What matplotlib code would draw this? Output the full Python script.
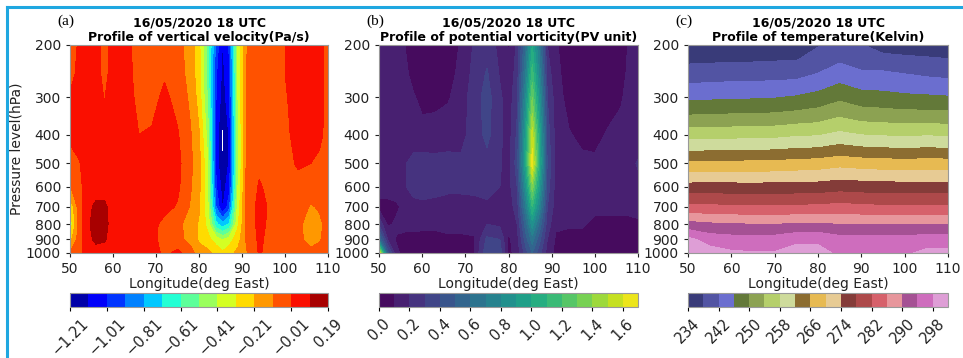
import numpy as np
import matplotlib
matplotlib.use('Agg')
import matplotlib.pyplot as plt
from matplotlib.lines import Line2D

#%% DATA ######################################################################

# pressure levels (hPa) and longitudes (deg East) of the gridded fields
plev = [200, 250, 300, 400, 500, 600, 700, 800, 900, 1000]
lon = [50, 52, 54, 56, 58, 60, 63, 66, 69, 72, 75, 78, 80, 82, 84, 85.5, 87,
       89, 91, 94, 97, 100, 103, 106, 108, 110]
lon_t = [50, 55, 60, 65, 70, 75, 80, 85, 90, 95, 100, 105, 110]

# vertical velocity (Pa/s), one column per longitude, 200 -> 1000 hPa
omega = [
    [-0.06, -0.04, 0.00, 0.01, -0.05, -0.12, -0.30, -0.40, -0.25, -0.10],
    [0.00, 0.01, 0.03, 0.03, -0.02, -0.04, -0.07, -0.08, -0.07, -0.04],
    [0.04, 0.04, 0.04, 0.04, 0.03, 0.03, 0.06, 0.07, 0.06, 0.03],
    [0.03, 0.03, 0.04, 0.04, 0.04, 0.05, 0.11, 0.13, 0.11, 0.05],
    [-0.05, -0.04, -0.015, 0.03, 0.04, 0.05, 0.11, 0.12, 0.10, 0.05],
    [0.03, 0.03, 0.04, 0.04, 0.04, 0.04, 0.05, 0.05, 0.05, 0.04],
    [0.02, 0.03, 0.04, 0.04, 0.04, 0.04, 0.04, 0.04, 0.04, 0.04],
    [-0.05, -0.05, -0.04, -0.01, 0.03, 0.04, 0.04, 0.04, 0.04, 0.04],
    [-0.06, -0.06, -0.04, 0.00, 0.03, 0.04, 0.04, 0.02, 0.02, 0.03],
    [-0.05, -0.02, 0.01, 0.03, 0.03, 0.03, 0.02, -0.04, -0.05, -0.03],
    [-0.07, -0.06, -0.04, 0.00, 0.02, 0.01, -0.02, -0.08, -0.06, 0.01],
    [-0.16, -0.15, -0.13, -0.10, -0.09, -0.10, -0.12, -0.16, -0.16, -0.05],
    [-0.28, -0.27, -0.25, -0.20, -0.17, -0.18, -0.20, -0.22, -0.22, -0.18],
    [-0.55, -0.55, -0.52, -0.45, -0.40, -0.40, -0.38, -0.34, -0.28, -0.18],
    [-0.95, -1.00, -1.02, -1.05, -1.05, -1.00, -0.92, -0.68, -0.36, -0.24],
    [-1.12, -1.14, -1.16, -1.24, -1.22, -1.16, -1.12, -0.78, -0.42, -0.29],
    [-1.00, -1.03, -1.05, -1.10, -1.10, -1.05, -0.95, -0.70, -0.36, -0.25],
    [-0.40, -0.42, -0.42, -0.45, -0.45, -0.42, -0.38, -0.33, -0.26, -0.18],
    [-0.12, -0.10, -0.10, -0.10, -0.10, -0.09, -0.08, -0.09, -0.10, -0.12],
    [-0.05, -0.05, -0.05, -0.04, -0.03, 0.00, 0.02, 0.02, 0.01, 0.00],
    [-0.05, -0.05, -0.05, -0.05, -0.05, -0.04, -0.03, -0.04, -0.05, -0.05],
    [-0.01, -0.01, -0.02, -0.03, -0.04, -0.05, -0.05, -0.05, -0.05, -0.05],
    [0.03, 0.03, 0.03, 0.02, 0.00, -0.04, -0.06, -0.08, -0.08, -0.05],
    [0.03, 0.03, 0.03, 0.02, -0.01, -0.06, -0.12, -0.17, -0.15, -0.08],
    [0.02, 0.02, 0.02, 0.01, -0.03, -0.06, -0.10, -0.13, -0.12, -0.07],
    [-0.04, -0.04, -0.04, -0.04, -0.05, -0.05, -0.07, -0.08, -0.07, -0.05],
]

# potential vorticity (PVU), one column per longitude, 200 -> 1000 hPa
pv = [
    [0.14, 0.14, 0.14, 0.14, 0.15, 0.14, 0.07, 0.28, 0.60, 1.65],
    [0.15, 0.14, 0.14, 0.14, 0.15, 0.14, 0.07, 0.08, 0.20, 0.45],
    [0.15, 0.14, 0.14, 0.15, 0.16, 0.15, 0.08, 0.12, 0.09, 0.12],
    [0.10, 0.12, 0.14, 0.15, 0.19, 0.19, 0.13, 0.12, 0.08, 0.07],
    [0.05, 0.07, 0.11, 0.14, 0.24, 0.24, 0.16, 0.12, 0.08, 0.07],
    [0.04, 0.05, 0.07, 0.14, 0.24, 0.25, 0.17, 0.12, 0.07, 0.06],
    [0.04, 0.05, 0.07, 0.15, 0.23, 0.24, 0.16, 0.12, 0.07, 0.06],
    [0.05, 0.06, 0.09, 0.16, 0.23, 0.22, 0.16, 0.13, 0.08, 0.07],
    [0.11, 0.13, 0.15, 0.17, 0.22, 0.22, 0.16, 0.13, 0.08, 0.07],
    [0.21, 0.23, 0.25, 0.24, 0.23, 0.22, 0.17, 0.13, 0.09, 0.09],
    [0.26, 0.31, 0.34, 0.33, 0.26, 0.23, 0.18, 0.20, 0.32, 0.38],
    [0.17, 0.19, 0.22, 0.22, 0.21, 0.20, 0.16, 0.18, 0.30, 0.36],
    [0.09, 0.12, 0.14, 0.15, 0.16, 0.16, 0.14, 0.12, 0.08, 0.07],
    [0.22, 0.25, 0.28, 0.32, 0.35, 0.30, 0.25, 0.20, 0.16, 0.14],
    [0.60, 0.70, 0.80, 0.95, 1.00, 0.85, 0.70, 0.55, 0.45, 0.35],
    [1.00, 1.15, 1.30, 1.55, 1.66, 1.35, 1.10, 0.85, 0.65, 0.50],
    [0.70, 0.80, 0.90, 1.05, 1.10, 0.95, 0.80, 0.60, 0.45, 0.35],
    [0.20, 0.25, 0.30, 0.35, 0.38, 0.35, 0.30, 0.25, 0.20, 0.16],
    [0.11, 0.13, 0.15, 0.16, 0.17, 0.16, 0.15, 0.12, 0.08, 0.07],
    [0.05, 0.05, 0.06, 0.11, 0.14, 0.15, 0.14, 0.11, 0.07, 0.06],
    [0.04, 0.04, 0.05, 0.07, 0.13, 0.15, 0.14, 0.11, 0.07, 0.06],
    [0.04, 0.04, 0.05, 0.07, 0.12, 0.14, 0.12, 0.08, 0.06, 0.06],
    [0.05, 0.05, 0.06, 0.11, 0.14, 0.15, 0.12, 0.08, 0.06, 0.06],
    [0.06, 0.07, 0.09, 0.13, 0.16, 0.16, 0.12, 0.08, 0.06, 0.06],
    [0.11, 0.12, 0.13, 0.14, 0.17, 0.16, 0.12, 0.08, 0.07, 0.07],
    [0.13, 0.13, 0.14, 0.15, 0.21, 0.17, 0.12, 0.09, 0.07, 0.07],
]

# temperature (K), one column per longitude in lon_t, 200 -> 1000 hPa
temp = [
    [234.5, 240.0, 245.1, 256.2, 266.7, 275.6, 282.8, 291.4, 299.0, 302.0],
    [234.6, 240.2, 245.3, 256.4, 266.8, 275.7, 282.8, 290.6, 296.2, 300.0],
    [234.8, 240.4, 245.5, 256.5, 266.9, 275.6, 282.6, 290.2, 295.6, 298.6],
    [234.9, 240.4, 245.6, 256.7, 267.0, 275.5, 282.5, 290.0, 295.5, 298.3],
    [235.1, 240.6, 245.8, 256.8, 267.1, 275.6, 282.5, 290.0, 295.6, 298.3],
    [235.0, 240.7, 246.4, 257.4, 267.5, 275.7, 282.6, 290.2, 297.2, 299.4],
    [237.7, 242.1, 247.4, 257.6, 267.8, 275.8, 282.8, 290.4, 297.3, 299.2],
    [239.0, 244.0, 249.1, 258.9, 268.6, 276.4, 283.3, 289.9, 295.5, 297.3],
    [238.2, 242.6, 247.6, 257.9, 268.1, 276.1, 282.8, 289.8, 295.3, 297.0],
    [236.3, 242.7, 247.3, 257.6, 267.8, 275.9, 282.6, 289.8, 295.3, 297.0],
    [236.0, 242.0, 246.8, 257.3, 267.6, 275.8, 282.5, 289.8, 295.4, 297.3],
    [235.9, 241.4, 246.6, 257.6, 267.8, 275.8, 282.5, 290.0, 296.0, 299.0],
    [235.6, 241.0, 246.3, 257.4, 267.7, 275.8, 282.5, 290.0, 296.0, 299.0],
]

#%% PLOT SETTINGS #############################################################

w_levels = np.linspace(-1.21, 0.19, 15)
pv_levels = np.linspace(0.0, 1.7, 18)
t_levels = np.arange(234, 303, 4)

panels = [
    ('(a)', 'Profile of vertical velocity(Pa/s)', lon, omega, w_levels, 'jet',
     w_levels[::2], '%.2f'),
    ('(b)', 'Profile of potential vorticity(PV unit)', lon, pv, pv_levels,
     'viridis', pv_levels[:-1:2], '%.1f'),
    ('(c)', 'Profile of temperature(Kelvin)', lon_t, temp, t_levels, 'tab20b',
     t_levels[:-1:2], '%d'),
]

W, H = 963.0, 358.0
ax_left = [70, 379, 688]
ax_width = [258, 259, 260]

fig = plt.figure(figsize=(9.63, 3.58), dpi=100)

for k, (tag, title, x, field, levels, cmap, cticks, fmt) in enumerate(panels):
    ax = fig.add_axes([ax_left[k] / W, 1 - 253 / H, ax_width[k] / W, 208 / H])
    cax = fig.add_axes([ax_left[k] / W, 1 - 307 / H, ax_width[k] / W, 14 / H])

    z = np.array(field).T
    cf = ax.contourf(x, plev, z, levels=levels, cmap=cmap)

    ax.set_yscale('log')
    ax.set_ylim(1000, 200)
    ax.set_yticks(plev[:1] + plev[2:])
    ax.set_yticklabels([str(p) for p in plev[:1] + plev[2:]])
    ax.yaxis.set_minor_locator(matplotlib.ticker.NullLocator())
    ax.set_xlim(50, 110)
    ax.set_xticks(np.arange(50, 111, 10))
    ax.tick_params(labelsize=10, length=3, colors='#222222')
    for s in ax.spines.values():
        s.set_color('#999999')
        s.set_linewidth(0.8)
    ax.set_xlabel('Longitude(deg East)', fontsize=10, labelpad=1, color='#222222')
    if k == 0:
        ax.set_ylabel('Pressure level(hPa)', fontsize=10, labelpad=2, color='#222222')

    # two title lines as separate texts
    ax.set_title(title, fontsize=9, fontweight='bold', pad=3)
    ax.text(0.5, 1 + 22 / 208, '16/05/2020 18 UTC', transform=ax.transAxes,
            ha='center', va='center', fontsize=9, fontweight='bold')

    cb = fig.colorbar(cf, cax=cax, orientation='horizontal', ticks=cticks)
    cb.ax.set_xticklabels([(fmt % v).replace('-', '\u2212') for v in cticks],
                          rotation=45, fontsize=10.5, color='#222222')
    cb.ax.tick_params(length=3)
    cb.outline.set_edgecolor('#999999')
    cb.outline.set_linewidth(0.8)

    fig.text((ax_left[k] - 4) / W, 1 - 21 / H, tag, fontsize=11,
             family='Liberation Serif', ha='center', va='center')

# light blue frame round the figure
blue = '#1fa7e0'
fig.add_artist(Line2D([7 / W, 1], [1 - 7 / H, 1 - 7 / H], color=blue, lw=2.2))
fig.add_artist(Line2D([7 / W, 7 / W], [0, 1 - 7 / H], color=blue, lw=2.2))

fig.savefig('out.png', dpi=100)
